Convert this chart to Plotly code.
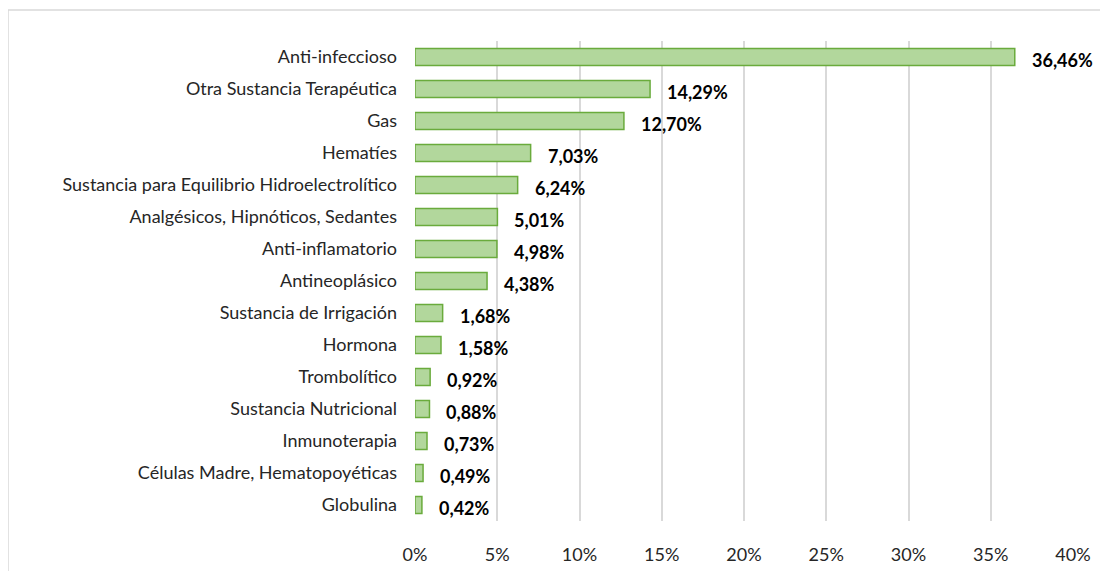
import plotly.graph_objects as go

categories = ["Anti-infeccioso", "Otra Sustancia Terapéutica", "Gas", "Hematíes",
              "Sustancia para Equilibrio Hidroelectrolítico", "Analgésicos, Hipnóticos, Sedantes",
              "Anti-inflamatorio", "Antineoplásico", "Sustancia de Irrigación", "Hormona",
              "Trombolítico", "Sustancia Nutricional", "Inmunoterapia",
              "Células Madre, Hematopoyéticas", "Globulina"]
values = [36.46, 14.29, 12.70, 7.03, 6.24, 5.01, 4.98, 4.38, 1.68, 1.58, 0.92, 0.88, 0.73, 0.49, 0.42]
tick_vals = [0, 5, 10, 15, 20, 25, 30, 35, 40]
tick_text = ["0%", "5%", "10%", "15%", "20%", "25%", "30%", "35%", "40%"]
labels = [f"{v:.2f}%".replace(".", ",") for v in values]

font = "Lato, 'Open Sans', sans-serif"
FS = 18

# plot area in figure px (page is offset by 8px body margin)
L, R, T, B = 407, 1065, 33, 513
W, H = R - L, B - T

fig = go.Figure(go.Bar(
    y=categories, x=values, orientation="h",
    marker=dict(color="#b2d79c", line=dict(color="#6aab3c", width=1.5)),
    width=0.53,
    hoverinfo="skip",
))

for c, v, t in zip(categories, values, labels):
    fig.add_annotation(x=v, y=c, text=f"<b>{t}</b>", showarrow=False,
                       xanchor="left", xshift=15, yshift=-3,
                       font=dict(family=font, size=FS, color="#000000"))

fig.update_layout(
    width=1108, height=571,
    margin=dict(l=L, r=1108 - R, t=T, b=571 - B),
    paper_bgcolor="white", plot_bgcolor="white",
    showlegend=False,
    font=dict(family=font, size=FS, color="#262626"),
    xaxis=dict(range=[0, 40], tickvals=tick_vals, ticktext=tick_text,
               showgrid=True, gridcolor="#d9d9d9", gridwidth=1.5, zeroline=False,
               showline=False, ticks="", ticklabelstandoff=21,
               tickfont=dict(family=font, size=FS, color="#262626")),
    yaxis=dict(categoryorder="array", categoryarray=categories[::-1],
               showgrid=False, zeroline=False, showline=False, ticks="",
               ticklabelstandoff=17,
               tickfont=dict(family=font, size=FS, color="#262626")),
    shapes=[dict(type="rect", xref="paper", yref="paper",
                 x0=(0 - L) / W, x1=(1120 - L) / W, y0=-80 / H, y1=(B - 2) / H,
                 line=dict(color="#d9d9d9", width=1.5), fillcolor="rgba(0,0,0,0)")],
)

fig.write_html("out.html")
